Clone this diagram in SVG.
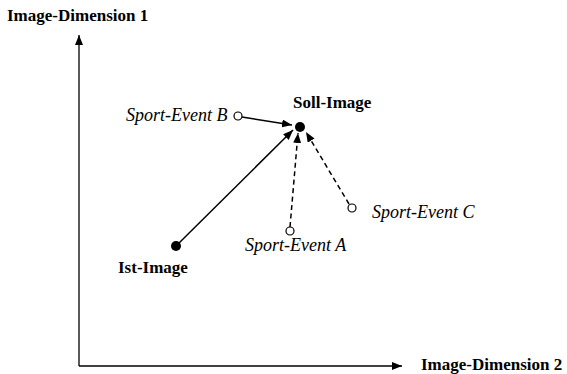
<svg xmlns="http://www.w3.org/2000/svg" width="567" height="374" viewBox="0 0 567 374">
<style>
.b{font-family:"Liberation Serif","Times New Roman",serif;font-weight:bold;font-size:17px;fill:#000}
.i{font-family:"Liberation Serif","Times New Roman",serif;font-style:italic;font-size:18px;fill:#000}
.ln{stroke:#000;stroke-width:1.5;fill:none}
.ax{stroke:#000;stroke-width:1.3;fill:none}
.d{stroke-dasharray:5,3.5}
.open{fill:#fff;stroke:#000;stroke-width:1.2}
</style>
<defs>
<marker id="ah" markerUnits="userSpaceOnUse" markerWidth="11" markerHeight="8" refX="10" refY="4" orient="auto">
<path d="M0,0 L10,4 L0,8 z" fill="#000"/>
</marker>
</defs>
<g id="axes">
<line class="ax" x1="79" y1="366" x2="79" y2="35" marker-end="url(#ah)"/>
<line class="ax" x1="79" y1="366" x2="402" y2="366" marker-end="url(#ah)"/>
<text class="b" x="7" y="21">Image-Dimension 1</text>
<text class="b" x="421" y="370">Image-Dimension 2</text>
</g>
<g id="connectors">
<line class="ln" x1="176" y1="246" x2="293" y2="130" marker-end="url(#ah)"/>
<line class="ln" x1="242" y1="117" x2="292" y2="125" marker-end="url(#ah)"/>
<line class="ln d" x1="290" y1="227" x2="298" y2="133" marker-end="url(#ah)"/>
<line class="ln d" x1="349" y1="204" x2="306" y2="132" marker-end="url(#ah)"/>
</g>
<g id="soll-image">
<circle cx="300" cy="127" r="5" fill="#000"/>
<text class="b" x="293" y="108">Soll-Image</text>
</g>
<g id="ist-image">
<circle cx="176" cy="246" r="5" fill="#000"/>
<text class="b" x="118" y="273">Ist-Image</text>
</g>
<g id="sport-event-b">
<circle class="open" cx="238" cy="116" r="4"/>
<text class="i" x="126" y="121">Sport-Event B</text>
</g>
<g id="sport-event-a">
<circle class="open" cx="290" cy="231" r="4"/>
<text class="i" x="245" y="251">Sport-Event A</text>
</g>
<g id="sport-event-c">
<circle class="open" cx="352" cy="208" r="4"/>
<text class="i" x="372" y="218">Sport-Event C</text>
</g>
</svg>
